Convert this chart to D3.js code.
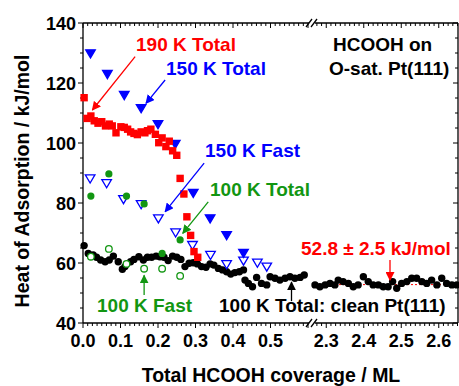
<!DOCTYPE html>
<html>
<head>
<meta charset="utf-8">
<script src="https://cdn.jsdelivr.net/npm/d3@7"></script>
<style>
    body { margin: 0; background: #fff; }
    text { font-family: "Liberation Sans", Arial, sans-serif; font-weight: bold; }
</style>
</head>
<body>
<div id="chart"></div>
<script>
// 190 K Total (red squares)
var total190K = [
    [0.003, 115.1], [0.011, 108.2], [0.021, 109.0], [0.030, 107.4], [0.040, 106.6],
    [0.050, 107.1], [0.060, 105.7], [0.070, 106.3], [0.078, 105.7], [0.088, 103.4],
    [0.101, 105.4], [0.110, 105.2], [0.119, 104.6], [0.127, 103.7], [0.136, 103.2],
    [0.145, 102.8], [0.155, 103.7], [0.165, 103.4], [0.172, 104.1], [0.181, 104.6],
    [0.193, 102.9], [0.202, 100.1], [0.211, 101.7], [0.221, 98.8], [0.230, 100.6],
    [0.239, 97.4], [0.250, 95.9], [0.259, 88.2], [0.269, 83.0], [0.277, 75.4],
    [0.287, 69.2], [0.296, 63.8], [0.306, 61.9]
];
// 150 K Total (blue filled triangles)
var total150K = [
    [0.020, 129.9], [0.065, 123.0], [0.110, 116.0], [0.155, 111.6], [0.200, 106.3],
    [0.246, 99.7], [0.294, 83.4], [0.339, 74.9], [0.383, 69.3], [0.428, 63.4]
];
// 150 K Fast (blue open triangles)
var fast150K = [
    [0.019, 88.2], [0.063, 86.6], [0.108, 81.3], [0.155, 79.6], [0.201, 74.9],
    [0.247, 70.2], [0.292, 66.0], [0.340, 62.7], [0.383, 59.6], [0.428, 60.8],
    [0.465, 60.1], [0.490, 58.8]
];
// 100 K Total (green filled circles)
var total100K = [
    [0.021, 82.3], [0.069, 89.7], [0.116, 82.3], [0.163, 79.7], [0.211, 63.2], [0.259, 67.7]
];
// 100 K Fast (green open circles)
var fast100K = [
    [0.021, 62.1], [0.069, 64.7], [0.116, 59.7], [0.163, 58.1], [0.211, 58.1], [0.259, 55.7]
];
// 100 K Total on clean Pt(111) (black circles), low coverage part
var cleanLow = [
    [0.003, 65.8], [0.014, 63.2], [0.027, 62.7], [0.036, 61.9], [0.047, 61.0],
    [0.059, 60.4], [0.070, 61.0], [0.081, 62.3], [0.094, 60.4], [0.105, 57.9],
    [0.112, 58.8], [0.127, 60.4], [0.136, 61.2], [0.149, 62.1], [0.161, 61.0],
    [0.172, 61.9], [0.183, 61.9], [0.195, 62.3], [0.205, 62.1], [0.216, 61.9],
    [0.227, 60.8], [0.239, 62.3], [0.250, 61.9], [0.261, 61.2], [0.272, 58.8],
    [0.283, 59.9], [0.294, 60.1], [0.305, 59.7], [0.316, 58.8], [0.328, 58.6],
    [0.339, 59.7], [0.349, 59.3], [0.361, 58.2], [0.372, 57.7], [0.383, 57.1],
    [0.394, 56.3], [0.405, 56.8], [0.417, 57.1], [0.428, 57.7], [0.432, 54.3],
    [0.441, 53.2], [0.452, 52.1], [0.463, 55.2], [0.476, 53.2], [0.490, 52.7],
    [0.499, 55.4], [0.512, 54.9], [0.525, 54.3], [0.539, 54.9], [0.552, 55.4],
    [0.565, 54.9], [0.579, 55.2], [0.590, 56.0]
];
// 100 K Total on clean Pt(111), multilayer part
var cleanHigh = [
    [2.270, 52.7], [2.283, 52.1], [2.297, 52.7], [2.310, 53.2], [2.323, 52.7],
    [2.332, 54.3], [2.345, 53.8], [2.359, 53.2], [2.372, 52.1], [2.385, 52.7],
    [2.399, 55.4], [2.412, 53.8], [2.425, 52.7], [2.439, 52.7], [2.452, 52.1],
    [2.465, 52.1], [2.477, 53.8], [2.488, 51.6], [2.501, 53.2], [2.515, 53.8],
    [2.528, 54.9], [2.541, 54.9], [2.555, 53.8], [2.568, 53.2], [2.581, 54.3],
    [2.595, 52.7], [2.608, 54.9], [2.621, 53.2], [2.635, 52.7], [2.648, 52.7]
];
var multilayerHeat = 52.8;

var xTicksLow  = [0.0, 0.1, 0.2, 0.3, 0.4, 0.5];
var xTicksHigh = [2.3, 2.4, 2.5, 2.6];
var yTicks     = [40, 60, 80, 100, 120, 140];

(function() {
    var red   = '#ff0000';
    var blue  = '#0000ff';
    var green = '#129612';

    var svg_width  = 459;
    var svg_height = 386;
    var pl = 83;   // plot left
    var pr = 458;  // plot right
    var pt = 23;   // plot top
    var pb = 323;  // plot bottom

    var svg = d3.select('#chart')
        .append('svg')
        .attr('width', svg_width)
        .attr('height', svg_height);

// Scales: broken x axis
    var xLow = d3.scaleLinear().domain([0, 0.6]).range([pl, 308]);
    var xHigh = d3.scaleLinear().domain([2.27, 2.65]).range([315, 457.5]);
    var y = d3.scaleLinear().domain([40, 140]).range([pb, pt]);

// Frame lines
    var frame = svg.append('g').attr('stroke', '#000').attr('stroke-width', 1.3);
    [pt, pb].forEach(function(yy) {
        frame.append('line').attr('x1', pl).attr('x2', 309).attr('y1', yy).attr('y2', yy);
        frame.append('line').attr('x1', 315).attr('x2', pr).attr('y1', yy).attr('y2', yy);
        // break marks
        frame.append('line').attr('x1', 306).attr('x2', 312).attr('y1', yy + 4).attr('y2', yy - 4);
        frame.append('line').attr('x1', 311).attr('x2', 317).attr('y1', yy + 4).attr('y2', yy - 4);
    });
    frame.append('line').attr('x1', pl).attr('x2', pl).attr('y1', pt).attr('y2', pb);
    frame.append('line').attr('x1', pr).attr('x2', pr).attr('y1', pt).attr('y2', pb);

// Ticks
    var ticks = svg.append('g').attr('stroke', '#000').attr('stroke-width', 1);
    function xTickRun(scale, from, to, labels) {
        d3.range(Math.round(from * 80), Math.round(to * 80) + 1).forEach(function(k) {
            var major = k % 8 === 0;
            var px = scale(k / 80);
            ticks.append('line').attr('x1', px).attr('x2', px)
                .attr('y1', pb).attr('y2', pb + (major ? 5 : 3));
            ticks.append('line').attr('x1', px).attr('x2', px)
                .attr('y1', pt).attr('y2', pt + (major ? 5 : 3));
        });
        svg.append('g').selectAll('text')
            .data(labels)
            .enter()
            .append('text')
            .attr('x', function(d) { return scale(d); })
            .attr('y', 347)
            .attr('text-anchor', 'middle')
            .style('font-size', '18px')
            .text(function(d) { return d.toFixed(1); });
    }
    xTickRun(xLow, 0, 0.6, xTicksLow);
    xTickRun(xHigh, 2.275, 2.65, xTicksHigh);

    d3.range(40, 141, 5).forEach(function(v) {
        var major = v % 20 === 0;
        ticks.append('line').attr('x1', pl).attr('x2', pl - (major ? 5 : 3))
            .attr('y1', y(v)).attr('y2', y(v));
        ticks.append('line').attr('x1', pr).attr('x2', pr - (major ? 5 : 3))
            .attr('y1', y(v)).attr('y2', y(v));
    });
    svg.append('g').selectAll('text')
        .data(yTicks)
        .enter()
        .append('text')
        .attr('x', 76)
        .attr('y', function(d) { return y(d) + 6.5; })
        .attr('text-anchor', 'end')
        .style('font-size', '18px')
        .text(function(d) { return d; });

// Axis titles
    svg.append('text')
        .attr('x', 271).attr('y', 382)
        .attr('text-anchor', 'middle')
        .style('font-size', '19.5px')
        .text('Total HCOOH coverage / ML');
    svg.append('text')
        .attr('transform', 'translate(29,181) rotate(-90)')
        .attr('text-anchor', 'middle')
        .style('font-size', '19.5px')
        .text('Heat of Adsorption / kJ/mol');

// Multilayer average
    svg.append('line')
        .attr('x1', xHigh(2.27)).attr('x2', xHigh(2.65))
        .attr('y1', y(multilayerHeat)).attr('y2', y(multilayerHeat))
        .attr('stroke', red).attr('stroke-width', 1)
        .attr('stroke-dasharray', '2,2');

// Markers
    var plot = svg.append('g');
    function circles(data, scale, r, fill, stroke) {
        plot.append('g').selectAll('circle')
            .data(data)
            .enter()
            .append('circle')
            .attr('cx', function(d) { return scale(d[0]); })
            .attr('cy', function(d) { return y(d[1]); })
            .attr('r', r)
            .attr('fill', fill)
            .attr('stroke', stroke)
            .attr('stroke-width', 1.3);
    }
    function triangles(data, fill) {
        plot.append('g').selectAll('path')
            .data(data)
            .enter()
            .append('path')
            .attr('d', 'M-4.8,-3.5L4.8,-3.5L0,4.6Z')
            .attr('transform', function(d) {
                return 'translate(' + xLow(d[0]) + ',' + y(d[1]) + ')';
            })
            .attr('fill', fill)
            .attr('stroke', blue)
            .attr('stroke-width', 1.3);
    }
    circles(cleanLow, xLow, 3.7, '#000', 'none');
    circles(cleanHigh, xHigh, 3.7, '#000', 'none');
    triangles(fast150K, '#fff');
    triangles(total150K, blue);
    circles(total100K, xLow, 3.6, green, 'none');
    circles(fast100K, xLow, 3.3, '#fff', green);
    plot.append('g').selectAll('rect')
        .data(total190K)
        .enter()
        .append('rect')
        .attr('x', function(d) { return xLow(d[0]) - 3.7; })
        .attr('y', function(d) { return y(d[1]) - 3.7; })
        .attr('width', 7.4)
        .attr('height', 7.4)
        .attr('fill', red);

// Annotations
    var defs = svg.append('defs');
    [['red', red], ['blue', blue], ['green', green], ['black', '#000']].forEach(function(c) {
        defs.append('marker')
            .attr('id', 'head-' + c[0])
            .attr('viewBox', '0 0 10 10')
            .attr('refX', 9).attr('refY', 5)
            .attr('markerWidth', 9).attr('markerHeight', 9)
            .attr('markerUnits', 'userSpaceOnUse')
            .attr('orient', 'auto')
            .append('path')
            .attr('d', 'M0,0L10,5L0,10Z')
            .attr('fill', c[1]);
    });
    function arrow(scale, x1, y1, x2, y2, name, color) {
        svg.append('line')
            .attr('x1', scale(x1)).attr('y1', y(y1))
            .attr('x2', scale(x2)).attr('y2', y(y2))
            .attr('stroke', color).attr('stroke-width', 1.3)
            .attr('marker-end', 'url(#head-' + name + ')');
    }
    function label(px, py, txt, color) {
        svg.append('text')
            .attr('x', px).attr('y', py)
            .attr('fill', color)
            .style('font-size', '19px')
            .text(txt);
    }
    label(136, 51, '190 K Total', red);
    arrow(xLow, 0.139, 128.8, 0.025, 111, 'red', red);
    label(166, 75, '150 K Total', blue);
    arrow(xLow, 0.219, 121, 0.168, 113.2, 'blue', blue);
    label(205, 157, '150 K Fast', blue);
    arrow(xLow, 0.323, 93.3, 0.219, 77.1, 'blue', blue);
    label(210, 196, '100 K Total', green);
    arrow(xLow, 0.334, 80.4, 0.266, 69.9, 'green', green);
    label(97, 312, '100 K Fast', green);
    arrow(xLow, 0.163, 49.3, 0.163, 55.9, 'green', green);
    label(219, 312, '100 K Total: clean Pt(111)', '#000');
    arrow(xLow, 0.556, 47.3, 0.556, 53.6, 'black', '#000');
    label(301, 255, '52.8 \u00b1 2.5 kJ/mol', red);
    arrow(xHigh, 2.47, 61, 2.47, 54.3, 'red', red);
    label(333, 51, 'HCOOH on', '#000');
    label(329, 75, 'O-sat. Pt(111)', '#000');
})();
</script>
</body>
</html>
